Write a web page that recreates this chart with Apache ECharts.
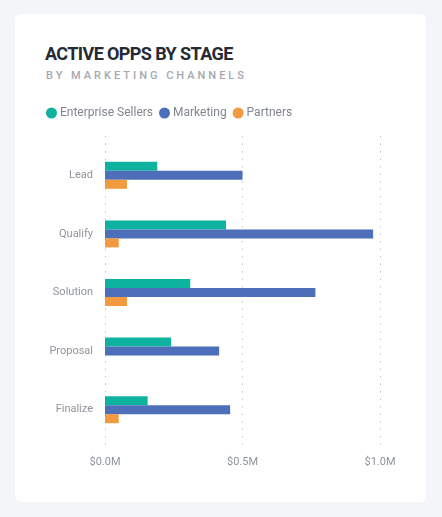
<!DOCTYPE html>
<html>
<head>
<meta charset="utf-8">
<script src="https://cdn.jsdelivr.net/npm/echarts@6/dist/echarts.min.js"></script>
<style>
html,body{margin:0;padding:0;width:442px;height:517px;background:#f4f5f9;overflow:hidden;}
#card{position:absolute;left:15px;top:14px;width:411px;height:488px;background:#fff;border-radius:6px;}
#title{position:absolute;left:45px;top:43px;font-family:Roboto,sans-serif;font-weight:700;font-size:18px;color:#252a33;letter-spacing:-0.6px;white-space:nowrap;}
#sub{position:absolute;left:46px;top:69px;font-family:Roboto,sans-serif;font-weight:500;font-size:11px;color:#a3a8b1;letter-spacing:3px;white-space:nowrap;}
#chart{position:absolute;left:0;top:0;width:442px;height:517px;}
</style>
</head>
<body>
<div id="card"></div>
<div id="title">ACTIVE OPPS BY STAGE</div>
<div id="sub">BY MARKETING CHANNELS</div>
<div id="chart"></div>
<script>
const categories = ['Lead', 'Qualify', 'Solution', 'Proposal', 'Finalize'];
const seriesNames = ['Enterprise Sellers', 'Marketing', 'Partners'];
const enterpriseSellers = [0.19, 0.44, 0.31, 0.24, 0.155];
const marketing = [0.50, 0.975, 0.765, 0.415, 0.455];
const partners = [0.08, 0.05, 0.08, 0, 0.05];
const xTicks = [0, 0.5, 1.0];
const colors = ['#0db39f', '#4d6fb9', '#f29a3f'];

const chart = echarts.init(document.getElementById('chart'), null, {renderer: 'canvas'});
const labelColor = '#8f949d';
const mk = (name, data, i) => ({
  name: name, type: 'bar', data: data, xAxisIndex: 0, yAxisIndex: 0,
  barWidth: 9, barGap: '0%', itemStyle: {color: colors[i]}
});
chart.setOption({
  animation: false,
  color: colors,
  legend: {
    left: 46, top: 107, padding: 0, icon: 'circle', itemWidth: 11, itemHeight: 11, itemGap: 6,
    data: seriesNames,
    textStyle: {color: '#80868f', fontFamily: 'Roboto', fontSize: 12, padding: [0, 0, 0, -2]}
  },
  grid: [
    {left: 105, right: 62, top: 146, bottom: 78},
    {left: 105, right: 62, top: 136, bottom: 69}
  ],
  xAxis: [
    {type: 'value', gridIndex: 0, min: xTicks[0], max: xTicks[xTicks.length - 1], interval: 0.5, show: false},
    {type: 'value', gridIndex: 1, min: xTicks[0], max: xTicks[xTicks.length - 1], interval: 0.5,
     axisLine: {show: false}, axisTick: {show: false},
     splitLine: {show: true, lineStyle: {type: [1.5, 6], color: '#c4c7cd', width: 1}},
     axisLabel: {color: labelColor, fontFamily: 'Roboto', fontSize: 11, margin: 9,
       formatter: v => '$' + v.toFixed(1) + 'M'}}
  ],
  yAxis: [
    {type: 'category', gridIndex: 0, data: categories, inverse: true,
     axisLine: {show: false}, axisTick: {show: false}, splitLine: {show: false},
     axisLabel: {color: labelColor, fontFamily: 'Roboto', fontSize: 11, margin: 12, padding: [3, 0, 0, 0]}},
    {type: 'value', gridIndex: 1, min: 0, max: 1, show: false}
  ],
  series: [
    mk(seriesNames[0], enterpriseSellers, 0),
    mk(seriesNames[1], marketing, 1),
    mk(seriesNames[2], partners, 2)
  ]
});
</script>
</body>
</html>
